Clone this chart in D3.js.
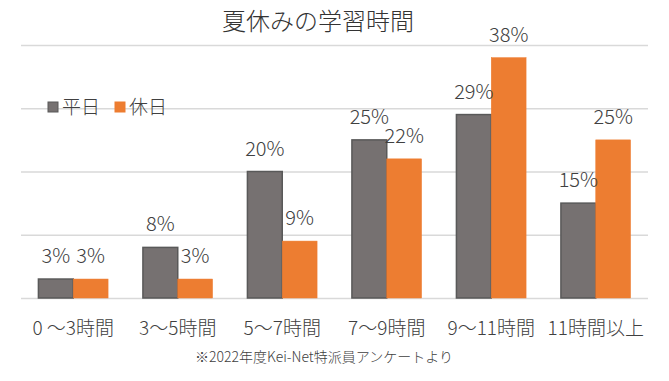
<!DOCTYPE html>
<html>
<head>
<meta charset="utf-8">
<script src="https://cdn.jsdelivr.net/npm/d3@7"></script>
<style>
  body { margin: 0; background: #fff; }
  svg { display: block; font-family: "Noto Sans CJK JP", "Noto Sans", sans-serif; font-weight: 300; }
</style>
</head>
<body>
<svg></svg>
<script>
let categories = ['0 ～3時間', '3～5時間', '5～7時間', '7～9時間', '9～11時間', '11時間以上'];
let seriesNames = ['平日', '休日'];
let weekday = [3, 8, 20, 25, 29, 15];
let holiday = [3, 3, 9, 22, 38, 25];
let gridTicks = [0, 10, 20, 30, 40];

let colors = { '平日': '#767171', '休日': '#ED7D31' };
let strokes = { '平日': '#595959', '休日': '#ED7D31' };

let width = 669;
let height = 381;
let plotLeft = 21, plotRight = 648, plotTop = 45, plotBottom = 298;

let svg = d3.select('svg')
            .attr('width', width)
            .attr('height', height);

let rows = categories.map((c, i) => ({ cat: c, values: { '平日': weekday[i], '休日': holiday[i] } }));

let xScale = d3.scaleBand()
               .domain(categories)
               .range([plotLeft, plotRight]);

let xInner = d3.scaleBand()
               .domain(seriesNames)
               .range([0, xScale.bandwidth()])
               .paddingOuter(0.5);

let yScale = d3.scaleLinear()
               .domain([0, 40])
               .range([plotBottom, plotTop]);

// gridlines
let grid = d3.axisLeft(yScale)
             .tickValues(gridTicks)
             .tickSize(-(plotRight - plotLeft))
             .tickFormat('');

svg.append('g')
   .attr('transform', `translate(${plotLeft}, 0)`)
   .call(grid)
   .call(g => g.select('.domain').remove())
   .call(g => g.selectAll('line').attr('stroke', '#d9d9d9').attr('stroke-width', 1.5));

// title
svg.append('text')
   .attr('x', 318)
   .attr('y', 22)
   .attr('dy', '0.35em')
   .attr('text-anchor', 'middle')
   .style('font-size', '24px')
   .style('fill', '#333')
   .text('夏休みの学習時間');

// bars
let groups = svg.selectAll('.group')
                .data(rows)
                .enter()
                .append('g')
                .attr('class', 'group')
                .attr('transform', d => `translate(${xScale(d.cat)}, 0)`);

groups.selectAll('rect')
      .data(d => seriesNames.map(s => ({ s: s, v: d.values[s] })))
      .enter()
      .append('rect')
      .attr('x', d => xInner(d.s))
      .attr('y', d => yScale(d.v))
      .attr('width', xInner.bandwidth())
      .attr('height', d => yScale(0) - yScale(d.v))
      .attr('fill', d => colors[d.s])
      .attr('stroke', d => strokes[d.s])
      .attr('stroke-width', d => d.s === '平日' ? 1.5 : 0.5);

groups.selectAll('.label')
      .data(d => seriesNames.map(s => ({ s: s, v: d.values[s] })))
      .enter()
      .append('text')
      .attr('class', 'label')
      .attr('x', d => xInner(d.s) + xInner.bandwidth() / 2)
      .attr('y', d => yScale(d.v) - 23)
      .attr('dy', '0.35em')
      .attr('text-anchor', 'middle')
      .style('font-size', '20px')
      .style('fill', '#404040')
      .text(d => d.v + '%');

// x axis labels
let xAxis = d3.axisBottom(xScale).tickSize(0).tickPadding(0);

svg.append('g')
   .attr('transform', `translate(0, 328)`)
   .call(xAxis)
   .call(g => g.select('.domain').remove())
   .call(g => g.selectAll('text')
               .attr('dy', '0.35em')
               .style('font-size', '19px')
               .style('font-family', '"Noto Sans CJK JP", sans-serif')
               .style('font-weight', 300)
               .style('fill', '#404040'));

// legend
let legend = svg.append('g')
                .attr('id', 'legend')
                .attr('transform', 'translate(48, 107)');

let legendX = [0, 67];
seriesNames.forEach((s, i) => {
    legend.append('rect')
          .attr('x', legendX[i])
          .attr('y', -5)
          .attr('width', 10)
          .attr('height', 10)
          .attr('fill', colors[s])
          .attr('stroke', strokes[s]);
    legend.append('text')
          .attr('x', legendX[i] + 14)
          .attr('y', 0)
          .attr('dy', '0.35em')
          .style('font-size', '19px')
          .style('fill', '#404040')
          .text(s);
});

// source note
svg.append('text')
   .attr('x', 324)
   .attr('y', 357)
   .attr('dy', '0.35em')
   .attr('text-anchor', 'middle')
   .style('font-size', '14px')
   .style('fill', '#404040')
   .text('※2022年度Kei-Net特派員アンケートより');
</script>
</body>
</html>
